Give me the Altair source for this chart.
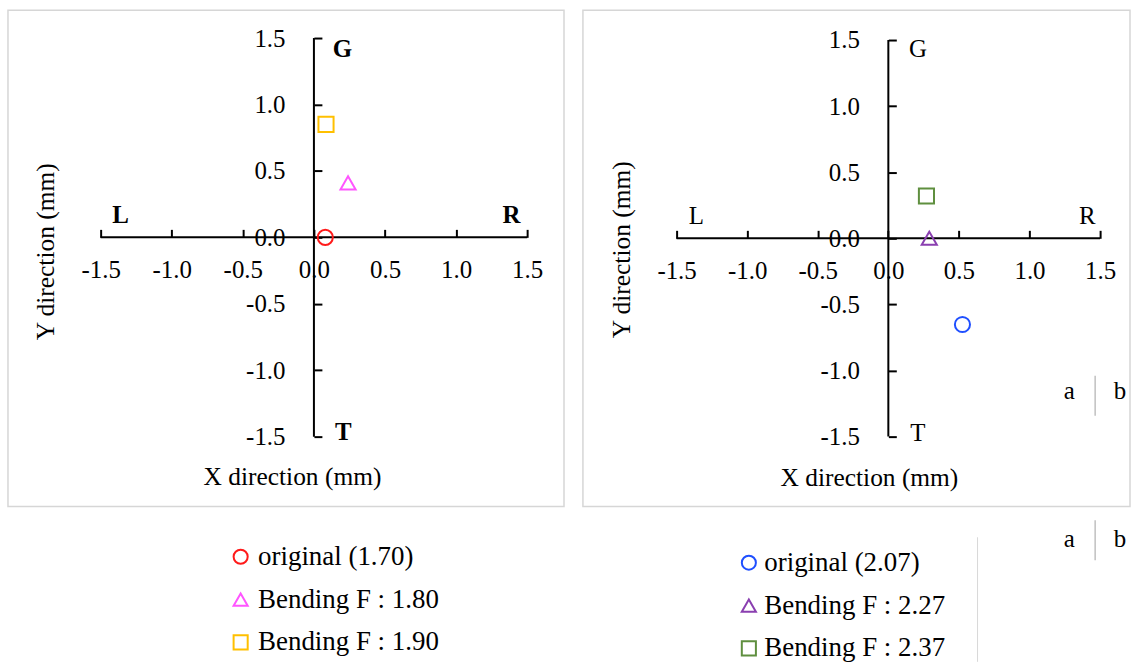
import altair as alt
import pandas as pd

FONT = "Liberation Serif"

# ---------------- data ----------------
ticks = [-1.5, -1.0, -0.5, 0.0, 0.5, 1.0, 1.5]
shapes = ["circle", "triangle-up", "square"]

# panel a
a_series = ["original (1.70)", "Bending F : 1.80", "Bending F : 1.90"]
a_x = [0.08, 0.24, 0.085]
a_y = [0.0, 0.41, 0.85]
a_colors = ["#ff1a1a", "#ff55ff", "#ffc000"]

# panel b
b_series = ["original (2.07)", "Bending F : 2.27", "Bending F : 2.37"]
b_x = [0.525, 0.29, 0.27]
b_y = [-0.652, 0.0, 0.32]
b_colors = ["#1f4fff", "#8a3fb0", "#5f8f3f"]

# direction labels
dir_labels = ["L", "R", "G", "T"]
a_dir_x = [-1.36, 1.39, 0.20, 0.207]
a_dir_y = [0.169, 0.169, 1.42, -1.466]
b_dir_x = [-1.36, 1.41, 0.21, 0.21]
b_dir_y = [0.166, 0.166, 1.43, -1.47]

# crossing axis lines
axis_x1 = [-1.5, 0.0]
axis_x2 = [1.5, 0.0]
axis_y1 = [0.0, -1.5]
axis_y2 = [0.0, 1.5]

sub_labels = ["a", "b"]

LABEL_EXPR = "replace(format(datum.value, '.1f'), '\u2212', '-')"


def panel(series, xs, ys, colors, dx, dy, bold, W, H, xdom, ydom,
          leg_x, leg_y, lab_off, xt, yt, extras=()):
    y0 = H * (ydom[1] - 0.0) / (ydom[1] - ydom[0])
    x0 = W * (0.0 - xdom[0]) / (xdom[1] - xdom[0])
    xsc = alt.Scale(domain=xdom, nice=False, zero=False)
    ysc = alt.Scale(domain=ydom, nice=False, zero=False)
    common = dict(values=ticks, labelExpr=LABEL_EXPR, domain=False, grid=False,
                  tickSize=8, tickWidth=2, tickColor="black",
                  labelFont=FONT, labelFontSize=25, labelColor="black",
                  labelOverlap=False, labelFlush=False,
                  titleFont=FONT, titleFontSize=25.5, titleFontWeight="normal",
                  titleColor="black", titleAlign="center", titleBaseline="middle")
    xaxis = alt.Axis(orient="top", offset=-y0, labelPadding=-40,
                     labelBaseline="middle", labelAlign="center",
                     title="X direction (mm)", titleX=xt[0], titleY=xt[1],
                     titleAngle=0, **common)
    yaxis = alt.Axis(orient="right", offset=x0 - W, labelPadding=-37,
                     labelBaseline="middle", labelAlign="right",
                     title="Y direction (mm)", titleX=yt[0], titleY=yt[1],
                     titleAngle=270, **common)
    X = lambda f: alt.X(f, scale=xsc, axis=xaxis)
    Y = lambda f: alt.Y(f, scale=ysc, axis=yaxis)

    rules = alt.Chart(pd.DataFrame({"x": axis_x1, "x2": axis_x2,
                                    "y": axis_y1, "y2": axis_y2})).mark_rule(
        color="black", strokeWidth=2).encode(x=X("x:Q"), x2="x2:Q", y=Y("y:Q"), y2="y2:Q")

    dirs = alt.Chart(pd.DataFrame({"label": dir_labels, "x": dx, "y": dy})).mark_text(
        font=FONT, fontSize=25, color="black",
        fontWeight="bold" if bold else "normal").encode(
        x=X("x:Q"), y=Y("y:Q"), text="label:N")

    leg = alt.Legend(orient="none", legendX=leg_x, legendY=leg_y, title=None,
                     direction="vertical", labelFont=FONT, labelFontSize=27,
                     labelColor="black", labelLimit=400, symbolSize=200,
                     symbolStrokeWidth=2, rowPadding=15, labelOffset=lab_off,
                     padding=0)
    pts = alt.Chart(pd.DataFrame({"series": series, "x": xs, "y": ys})).mark_point(
        filled=False, size=230, strokeWidth=2, opacity=1).encode(
        x=X("x:Q"), y=Y("y:Q"),
        color=alt.Color("series:N", scale=alt.Scale(domain=series, range=colors), legend=leg),
        shape=alt.Shape("series:N", scale=alt.Scale(domain=series, range=shapes), legend=leg),
    )
    return alt.layer(rules, dirs, pts, *extras).properties(width=W, height=H)


def txt(s, px, py):
    return alt.Chart(pd.DataFrame({"t": [s]})).mark_text(
        font=FONT, fontSize=25, color="black", align="center", baseline="middle").encode(
        x=alt.value(px), y=alt.value(py), text="t:N")


def vline(px, py1, py2, color, width):
    return alt.Chart(pd.DataFrame({"t": [0]})).mark_rule(
        color=color, strokeWidth=width).encode(
        x=alt.value(px), y=alt.value(py1), y2=alt.value(py2))


extras_b = [
    txt(sub_labels[0], 488, 382), vline(514, 367, 407, "#b0b0b0", 1.2), txt(sub_labels[1], 539, 382),
    txt(sub_labels[0], 488, 531), vline(514, 512, 552, "#b0b0b0", 1.2), txt(sub_labels[1], 539, 531),
    vline(396, 529, 654, "#d8d8d8", 1),
]

left = panel(a_series, a_x, a_y, a_colors, a_dir_x, a_dir_y, True,
             558, 498, [-2.152, 1.759], [-2.025, 1.71],
             220, 535, 4, (285, 240), (-269.5, 242))
right = panel(b_series, b_x, b_y, b_colors, b_dir_x, b_dir_y, False,
              549, 498, [-2.1635, 1.712], [-2.028, 1.726],
              153, 541, 2, (287, 240), (-268, 240), extras_b)

chart = alt.hconcat(left, right, spacing=17).resolve_scale(
    color="independent", shape="independent", x="independent", y="independent"
).configure_view(stroke="#d6d6d6", strokeWidth=1.5).properties(
    padding={"left": 7, "top": 8, "right": 0, "bottom": 0},
    background="white",
)

chart.save("out.html", embed_options={"renderer": "svg", "actions": False})
